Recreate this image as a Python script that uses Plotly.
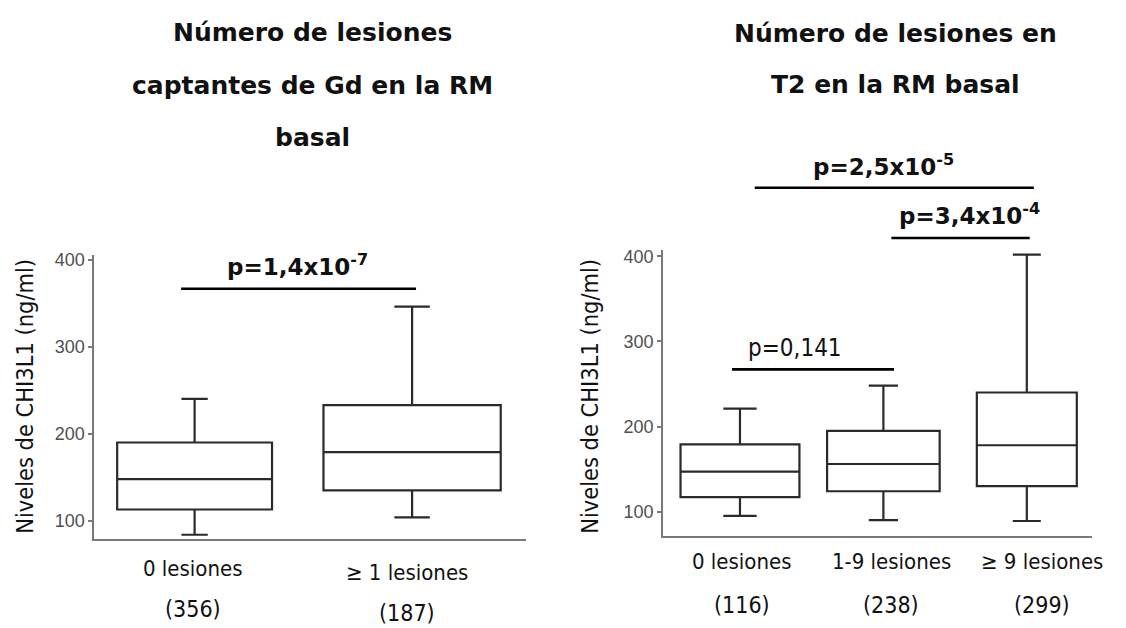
import plotly.graph_objects as go

W, H = 1126, 628

# ---------------- data ----------------
gd_categories = ["0 lesiones", "≥ 1 lesiones"]
gd_counts = ["(356)", "(187)"]
gd_lowerfence = [84, 104]
gd_q1 = [113, 135]
gd_median = [148, 179]
gd_q3 = [190, 233]
gd_upperfence = [240, 346]

t2_categories = ["0 lesiones", "1-9 lesiones", "≥ 9 lesiones"]
t2_counts = ["(116)", "(238)", "(299)"]
t2_lowerfence = [95, 90, 89]
t2_q1 = [117, 124, 130]
t2_median = [147, 156, 178]
t2_q3 = [179, 195, 240]
t2_upperfence = [221, 248, 402]

y_ticks = [100, 200, 300, 400]

gd_title = ["Número de lesiones", "captantes de Gd en la RM", "basal"]
t2_title = ["Número de lesiones en", "T2 en la RM basal"]
y_title = "Niveles de CHI3L1 (ng/ml)"

# comparisons: (from, to, level in ng/ml, label, bold)
gd_comparisons = [(-0.062, 1.018, 366.6, "p=1,4x10<sup>-7</sup>", True)]
t2_comparisons = [
    (-0.056, 1.074, 267.1, "p=0,141", False),
    (1.056, 2.02, 421.4, "p=3,4x10<sup>-4</sup>", True),
    (0.103, 2.049, 480.6, "p=2,5x10<sup>-5</sup>", True),
]

# ---------------- styling / layout geometry ----------------
gd_widths = [0.712, 0.815]
gd_caps = [0.17, 0.2]
t2_widths = [0.829, 0.785, 0.697]
t2_caps = [0.28, 0.26, 0.28]
gd_label_shift = [-2, -5]
t2_label_shift = [2, 8, 15]

BOX_LINE = "#2a2a2a"
AXIS_LINE = "#7a7a7a"
TXT = "#111111"
REG_FONT = "DejaVu Sans Condensed, DejaVu Sans, sans-serif"
BOLD_FONT = "DejaVu Sans, sans-serif"
TICK_FONT = dict(family="Liberation Sans, Arial", size=18, color="#505050")

# pixel geometry of both panels
L_x_px = (94.4, 526.2)
L_y_px = (251.7, 538.3)
L_range_x = [-0.4607, 1.5246]
L_range_y = [79.1, 405.7]

R_x_px = (663.1, 1091.5)
R_y_px = (246.7, 535.0)
R_range_x = [-0.536, 2.451]
R_range_y = [71.7, 407.7]


def px_x(px):
    return px / W


def px_y(py):
    return 1 - py / H


def val_to_py(v, rng, ypx):
    top, bot = ypx
    return bot - (v - rng[0]) / (rng[1] - rng[0]) * (bot - top)


fig = go.Figure()

for i in range(len(gd_categories)):
    fig.add_trace(go.Box(
        x=[i], q1=[gd_q1[i]], median=[gd_median[i]], q3=[gd_q3[i]],
        lowerfence=[gd_lowerfence[i]], upperfence=[gd_upperfence[i]],
        width=gd_widths[i], whiskerwidth=gd_caps[i],
        line=dict(color=BOX_LINE, width=2.2), fillcolor="white",
        boxpoints=False, hoverinfo="skip", showlegend=False,
        xaxis="x", yaxis="y",
    ))

for i in range(len(t2_categories)):
    fig.add_trace(go.Box(
        x=[i], q1=[t2_q1[i]], median=[t2_median[i]], q3=[t2_q3[i]],
        lowerfence=[t2_lowerfence[i]], upperfence=[t2_upperfence[i]],
        width=t2_widths[i], whiskerwidth=t2_caps[i],
        line=dict(color=BOX_LINE, width=2.2), fillcolor="white",
        boxpoints=False, hoverinfo="skip", showlegend=False,
        xaxis="x2", yaxis="y2",
    ))

axis_common = dict(showgrid=False, zeroline=False, showline=True,
                   linecolor=AXIS_LINE, linewidth=2)

fig.update_layout(
    width=W, height=H,
    margin=dict(l=0, r=0, t=0, b=0),
    paper_bgcolor="white", plot_bgcolor="white",
    showlegend=False,
    xaxis=dict(domain=[px_x(L_x_px[0]), px_x(L_x_px[1])], range=L_range_x,
               showticklabels=False, ticks="", anchor="y", **axis_common),
    yaxis=dict(domain=[px_y(L_y_px[1]), px_y(L_y_px[0])], range=L_range_y,
               tickvals=y_ticks, ticks="outside", ticklen=4, tickwidth=1.5,
               tickcolor=AXIS_LINE, anchor="x", tickfont=TICK_FONT,
               **axis_common),
    xaxis2=dict(domain=[px_x(R_x_px[0]), px_x(R_x_px[1])], range=R_range_x,
                showticklabels=False, ticks="", anchor="y2", **axis_common),
    yaxis2=dict(domain=[px_y(R_y_px[1]), px_y(R_y_px[0])], range=R_range_y,
                tickvals=y_ticks, ticks="outside", ticklen=4, tickwidth=1.5,
                tickcolor=AXIS_LINE, anchor="x2", tickfont=TICK_FONT,
                **axis_common),
)

annotations = []
shapes = []


def add_text(text, x, xref, baseline_px, size, bold=False, xshift=0):
    fam = BOLD_FONT if bold else REG_FONT
    bottom = baseline_px + 0.236 * size
    annotations.append(dict(
        text=("<b>%s</b>" % text) if bold else text,
        x=x, xref=xref, y=px_y(bottom), yref="paper", xshift=xshift,
        xanchor="center", yanchor="bottom", showarrow=False, borderpad=0,
        font=dict(family=fam, size=size, color=TXT),
    ))


# titles
for line, base in zip(gd_title, [37, 91, 143]):
    add_text(line, px_x(312), "paper", base, 25, bold=True)
for line, base in zip(t2_title, [38, 90]):
    add_text(line, px_x(895), "paper", base, 25, bold=True)

# category labels + counts
for i, (c, n) in enumerate(zip(gd_categories, gd_counts)):
    add_text(c, i, "x", [576, 580][i], 22, xshift=gd_label_shift[i])
    add_text(n, i, "x", [618, 622][i], 23, xshift=gd_label_shift[i])
for i, (c, n) in enumerate(zip(t2_categories, t2_counts)):
    add_text(c, i, "x2", 569, 22, xshift=t2_label_shift[i])
    add_text(n, i, "x2", 614, 23, xshift=t2_label_shift[i])

# y-axis titles
for xc in (25, 590):
    annotations.append(dict(
        text=y_title, textangle=-90, x=px_x(xc), y=px_y(395), xref="paper", yref="paper",
        xanchor="center", yanchor="middle", showarrow=False,
        font=dict(family=REG_FONT, size=23.4, color=TXT),
    ))

# significance bars
text_centres_gd = [0.475]
text_offsets_gd = [13]
text_centres_t2 = [0.385, 1.597, 1.0]
text_offsets_t2 = [12, 14, 12]
for (a, b, lvl, lab, bold), xc, off in zip(gd_comparisons, text_centres_gd, text_offsets_gd):
    py = val_to_py(lvl, L_range_y, L_y_px)
    shapes.append(dict(type="line", xref="x", yref="paper", x0=a, x1=b,
                       y0=px_y(py), y1=px_y(py), line=dict(color="#000", width=2.6)))
    add_text(lab, xc, "x", py - off, 23 if bold else 24, bold=bold)
for (a, b, lvl, lab, bold), xc, off in zip(t2_comparisons, text_centres_t2, text_offsets_t2):
    py = val_to_py(lvl, R_range_y, R_y_px)
    shapes.append(dict(type="line", xref="x2", yref="paper", x0=a, x1=b,
                       y0=px_y(py), y1=px_y(py), line=dict(color="#000", width=2.6)))
    add_text(lab, xc, "x2", py - off, 23 if bold else 24, bold=bold)

fig.update_layout(annotations=annotations, shapes=shapes)

fig.write_html("out.html")
